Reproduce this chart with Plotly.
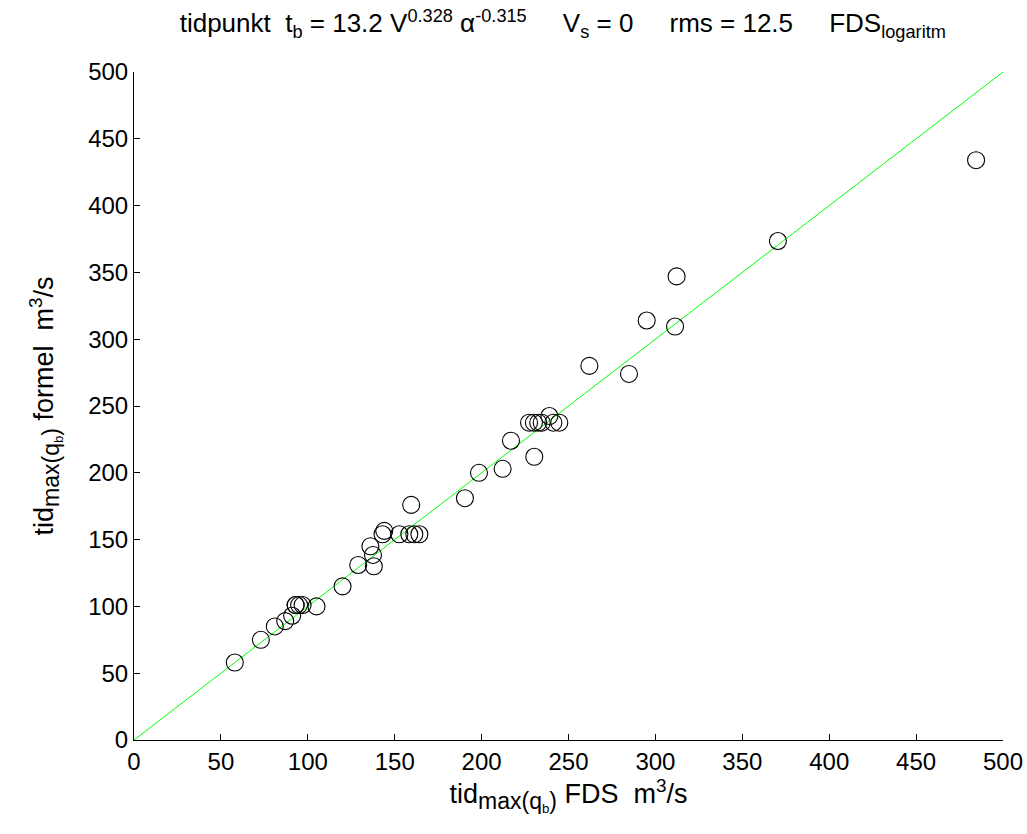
import plotly.graph_objects as go

fds = [58, 73, 81, 87, 93, 91, 93, 95, 97, 105, 120, 129, 136, 137.5, 138, 143, 144, 152.7, 158.4, 159.5, 161.3, 164.2,
       190.4, 198.5, 212.1, 216.9, 227.3, 230.1, 230.3, 232.6, 234.6, 239, 241.3, 244.7,
       262, 284.8, 295, 311.3, 312.2, 370.5, 484.5]
formel = [58, 75, 85, 89, 101, 93, 101, 101, 101, 100, 115, 131, 145, 138.5, 130, 154, 156.5, 154, 154, 176, 154, 154,
          181, 200, 203, 224, 237.5, 237.5, 212, 237.5, 237.5, 242.5, 237.5, 237.5,
          280, 274, 314, 309.5, 347, 373.5, 434]
line_x = [0, 500]
line_y = [0, 500]
ticks = list(range(0, 501, 50))

fig = go.Figure()
fig.add_trace(go.Scatter(x=line_x, y=line_y, mode="lines",
                         line=dict(color="#00ff00", width=1), showlegend=False, hoverinfo="skip"))
fig.add_trace(go.Scatter(x=fds, y=formel, mode="markers",
                         marker=dict(symbol="circle-open", size=17, color="black", line=dict(width=1.1, color="black")),
                         showlegend=False))

S = "\u00a0"
title_txt = ("tidpunkt" + S * 2 + "t<sub>b</sub> = 13.2 V<sup>0.328</sup> α<sup>-0.315</sup>" + S * 5 +
             "V<sub>s</sub> = 0" + S * 5 + "rms = 12.5" + S * 5 + "FDS<sub>logaritm</sub>")

sub_main = "<sub><span style='font-size:23px'>max(q</span><sub>b</sub><span style='font-size:23px'>)</span></sub>"
xlabel = "tid" + sub_main + " FDS" + S * 2 + "m<sup>3</sup>/s"
ylabel = "tid" + sub_main + " formel" + S * 2 + "m<sup>3</sup>/s"

font = dict(family="Liberation Sans, Arial, sans-serif", size=24, color="black")
fig.update_layout(
    width=1027, height=834,
    margin=dict(l=134, r=24, t=72, b=94),
    paper_bgcolor="white", plot_bgcolor="white",
    font=font,
    title=dict(text=title_txt, x=0.548, xanchor="center", y=0.972, yanchor="middle", font=dict(size=26)),
    xaxis=dict(range=[0, 500], tickvals=ticks, showline=True, linecolor="black", linewidth=1,
               ticks="inside", ticklen=6, tickcolor="black", showgrid=False, zeroline=False, automargin=False,
               title=dict(text=xlabel, standoff=6, font=dict(size=27)),
               tickfont=dict(size=24)),
    yaxis=dict(range=[0, 500], tickvals=ticks, showline=True, linecolor="black", linewidth=1,
               ticks="inside", ticklen=6, tickcolor="black", showgrid=False, zeroline=False, automargin=False,
               title=dict(text=ylabel, standoff=26, font=dict(size=27)),
               tickfont=dict(size=24)),
)
fig.write_html("out.html")
